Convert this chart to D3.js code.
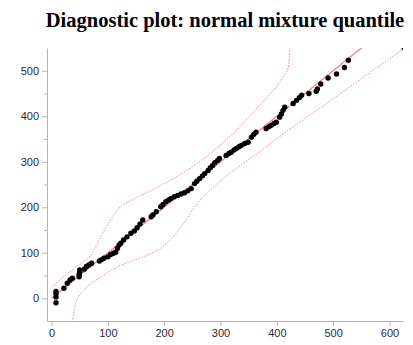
<!DOCTYPE html>
<html>
<head>
<meta charset="utf-8">
<script src="https://cdn.jsdelivr.net/npm/d3@7"></script>
<style>
  body { margin: 0; background: #fff; }
  .axis path, .axis line { stroke: #b4b4b4; }
  .axis text { font-family: "Liberation Sans", Arial, sans-serif; font-size: 11px; fill: #2a2a3a; }
</style>
</head>
<body>
<div id="chart-area"></div>
<script>
// theoretical quantiles (x) and sorted sample values (y)
const qx = [8, 8, 8, 8, 22, 28, 33, 37, 49, 49, 50, 50, 58, 62, 66, 71,
    85, 89, 93, 100, 105, 110, 114, 117, 120, 123, 128, 134, 141, 147, 152, 157, 162,
    177, 180, 186, 194, 198, 203, 208, 212, 218, 224, 230, 236, 242, 248, 254, 258,
    263, 268, 272, 278, 282, 286, 290, 295, 298, 310, 315, 319, 324, 328, 333, 337,
    343, 349, 355, 359, 363, 381, 386, 390, 395, 399, 405, 408, 411, 414, 429, 435,
    440, 444, 457, 470, 472, 478, 491, 506, 520, 527, 626]
const qy = [-10, 3, 10, 15, 22, 33, 40, 44, 47, 52, 57, 62, 64, 70, 73, 77,
    82, 85, 88, 91, 96, 99, 101, 110, 117, 121, 128, 135, 143, 148, 155, 163, 172,
    179, 183, 190, 201, 206, 212, 216, 219, 223, 226, 229, 232, 236, 241, 252, 257,
    263, 269, 274, 281, 287, 292, 298, 303, 307, 314, 318, 321, 326, 329, 333, 336,
    340, 343, 354, 360, 365, 373, 377, 380, 384, 387, 398, 405, 413, 420, 428, 435,
    441, 446, 450, 455, 460, 471, 484, 493, 507, 523, 550]

// reference line and envelope
const refLine = [[0, 0], [560, 560]]
const upperBand = [[0, 25], [40, 66], [70, 95], [94, 150], [117, 194], [147, 219],
    [177, 237], [206, 256], [236, 278], [266, 303], [295, 332], [325, 365],
    [360, 412], [390, 452], [414, 492], [420, 506], [424, 560]]
const lowerBand = [[36, -60], [43, -11], [58, 18], [88, 47], [117, 69], [147, 84],
    [177, 99], [206, 122], [230, 157], [260, 210], [301, 259], [360, 314],
    [420, 369], [480, 421], [540, 474], [630, 553]]

const xTicks = [0, 100, 200, 300, 400, 500, 600]
const yTicks = [0, 100, 200, 300, 400, 500]
const yMinorTicks = [50, 150, 250, 350, 450]

const W = 413, H = 345
const margin = {left: 47, right: 10, top: 48, bottom: 24}
const width = W - margin.left - margin.right
const height = H - margin.top - margin.bottom

const svg = d3.select("#chart-area").append("svg")
    .attr("width", W)
    .attr("height", H)

svg.append("text")
    .attr("x", 225)
    .attr("y", 27)
    .attr("text-anchor", "middle")
    .attr("font-family", "Liberation Serif, Times New Roman, serif")
    .attr("font-weight", "bold")
    .attr("font-size", "20.5px")
    .text("Diagnostic plot: normal mixture quantile")

const g = svg.append("g")
    .attr("transform", `translate(${margin.left}, ${margin.top})`)

const x = d3.scaleLinear().domain([-8, 624]).range([0, width])
const y = d3.scaleLinear().domain([-50, 550]).range([height, 0])

g.append("clipPath").attr("id", "plot-clip")
    .append("rect").attr("width", width).attr("height", height)

// axes
g.append("g")
    .attr("class", "axis")
    .attr("transform", `translate(0, ${height})`)
    .call(d3.axisBottom(x).tickValues(xTicks).tickSize(5).tickSizeOuter(0).tickPadding(3))

g.append("g")
    .attr("class", "axis")
    .call(d3.axisLeft(y).tickValues(yTicks).tickSize(5).tickSizeOuter(0).tickPadding(3))

// minor ticks, no labels
g.append("g")
    .attr("class", "axis")
    .call(d3.axisLeft(y).tickValues(yMinorTicks).tickSize(3).tickSizeOuter(0).tickFormat(""))
    .select(".domain").remove()

const plot = g.append("g").attr("clip-path", "url(#plot-clip)")

const line = d3.line()
    .x(d => x(d[0]))
    .y(d => y(d[1]))
const curve = d3.line()
    .x(d => x(d[0]))
    .y(d => y(d[1]))
    .curve(d3.curveMonotoneX)

plot.append("path")
    .attr("fill", "none")
    .attr("stroke", "#f08088")
    .attr("stroke-width", 1.2)
    .attr("d", line(refLine))

plot.selectAll(".band")
    .data([upperBand, lowerBand])
    .enter().append("path")
    .attr("class", "band")
    .attr("fill", "none")
    .attr("stroke", "#f48a96")
    .attr("stroke-width", 1)
    .attr("stroke-dasharray", "1.5,1.5")
    .attr("d", d => curve(d))

plot.selectAll("circle")
    .data(d3.zip(qx, qy))
    .enter().append("circle")
    .attr("cx", d => x(d[0]))
    .attr("cy", d => y(d[1]))
    .attr("r", 2.7)
    .attr("fill", "#000")
</script>
</body>
</html>
